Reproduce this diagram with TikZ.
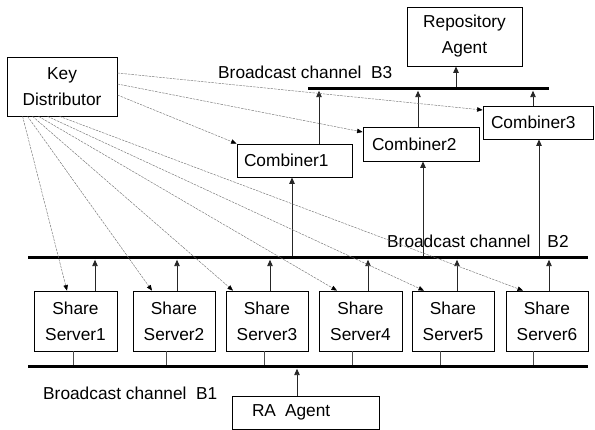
\documentclass[tikz,border=0pt]{standalone}
\usepackage{fontspec}
\setmainfont{Liberation Sans}
\usetikzlibrary{arrows.meta,calc}
\begin{document}
\begin{tikzpicture}[x=1pt,y=-1pt,
  font=\fontsize{17.3}{26}\selectfont,
  box/.style={draw, line width=0.8pt, inner sep=0pt, align=center},
  lbox/.style={draw, line width=0.8pt, inner ysep=0pt, align=left},
  bar/.style={fill=black, draw=none, inner sep=0pt, minimum height=3pt},
  arr/.style={-{Triangle[length=6.5pt,width=5.5pt]}, line width=0.9pt, draw=black!85},
  link/.style={line width=0.9pt, draw=black!70},
  dsh/.style={-{Triangle[length=5.5pt,width=4.5pt,color=black,fill=black]}, draw=black!55, line width=0.45pt, dash pattern=on 2.5pt off 1pt},
  lbl/.style={inner sep=0pt, anchor=west}
]
\useasboundingbox (0,0) rectangle (595,430);

% boxes
\node[box, minimum width=110pt, minimum height=59pt] (kd) at (62,86.5) {Key\\Distributor};
\node[box, minimum width=115pt, minimum height=59pt] (rep) at (464.5,36.5) {Repository\\Agent};
\node[lbox, minimum width=115pt, minimum height=33pt, inner xsep=7pt, text width=101pt] (c1) at (294.5,160.5) {Combiner1};
\node[lbox, minimum width=116pt, minimum height=34pt, inner xsep=9pt, text width=98pt] (c2) at (421,144) {Combiner2};
\node[lbox, minimum width=110pt, minimum height=33pt, inner xsep=8pt, text width=94pt] (c3) at (538,122.5) {Combiner3};
\node[box, minimum width=83pt, minimum height=60pt] (s1) at (75.5,321) {Share\\Server1};
\node[box, minimum width=82pt, minimum height=60pt] (s2) at (174,321) {Share\\Server2};
\node[box, minimum width=82pt, minimum height=60pt] (s3) at (267,321) {Share\\Server3};
\node[box, minimum width=83pt, minimum height=60pt] (s4) at (360.5,321) {Share\\Server4};
\node[box, minimum width=82pt, minimum height=60pt] (s5) at (453,321) {Share\\Server5};
\node[box, minimum width=82pt, minimum height=60pt] (s6) at (547,321) {Share\\Server6};
\node[lbox, minimum width=147pt, minimum height=33pt, inner xsep=20pt, text width=107pt] (rag) at (305.5,412.5) {RA\hspace{9pt}Agent};

% bars
\node[bar, minimum width=241pt] (b3) at (428.5,89) {};
\node[bar, minimum width=560pt] (b2) at (308,258) {};
\node[bar, minimum width=560pt] (b1) at (308,367) {};

% labels
\node[lbl] (l3) at (218,72) {Broadcast channel\ \ B3};
\node[lbl] (l2) at (387,241) {Broadcast channel\hspace{17pt}B2};
\node[lbl] (l1) at (43,393) {Broadcast channel\ \ B1};

% B3 connections
\draw[arr] (456,0 |- b3.north) -- (456,0 |- rep.south);
\draw[arr] (319,0 |- c1.north) -- (319,0 |- b3.south);
\draw[arr] (418,0 |- c2.north) -- (418,0 |- b3.south);
\draw[arr] (533,0 |- c3.north) -- (533,0 |- b3.south);

% B2 to combiners
\draw[arr] (292,0 |- b2.north) -- (292,0 |- c1.south);
\draw[arr] (423,0 |- b2.north) -- (423,0 |- c2.south);
\draw[arr] (539,0 |- b2.north) -- (539,0 |- c3.south);

% servers up to B2
\draw[arr] (95,0 |- s1.north) -- (95,0 |- b2.south);
\draw[arr] (177,0 |- s2.north) -- (177,0 |- b2.south);
\draw[arr] (270,0 |- s3.north) -- (270,0 |- b2.south);
\draw[arr] (368,0 |- s4.north) -- (368,0 |- b2.south);
\draw[arr] (457,0 |- s5.north) -- (457,0 |- b2.south);
\draw[arr] (549,0 |- s6.north) -- (549,0 |- b2.south);

% servers to B1
\draw[link] (73,0 |- s1.south) -- (73,0 |- b1.north);
\draw[link] (166,0 |- s2.south) -- (166,0 |- b1.north);
\draw[link] (264,0 |- s3.south) -- (264,0 |- b1.north);
\draw[link] (352,0 |- s4.south) -- (352,0 |- b1.north);
\draw[link] (440,0 |- s5.south) -- (440,0 |- b1.north);
\draw[link] (533,0 |- s6.south) -- (533,0 |- b1.north);

% RA agent to B1
\draw[arr] (297,0 |- rag.north) -- (297,0 |- b1.south);

% key distributor
\draw[dsh] ($(kd.east)+(0,-13.5)$) -- ($(c3.west)+(0,-12.5)$);
\draw[dsh] ($(kd.east)+(0,-2.5)$) -- ($(c2.west)+(0,-12)$);
\draw[dsh] ($(kd.east)+(0,8.5)$) -- (c1.north west);
\draw[dsh] ($(kd.south west)+(16,0)$) -- ($(s1.north)+(-8.5,0)$);
\draw[dsh] ($(kd.south west)+(21,0)$) -- ($(s2.north)+(-22,0)$);
\draw[dsh] ($(kd.south west)+(26,0)$) -- ($(s3.north)+(-34,0)$);
\draw[dsh] ($(kd.south west)+(32,0)$) -- ($(s4.north)+(-23.5,0)$);
\draw[dsh] ($(kd.south west)+(41,0)$) -- ($(s5.north)+(-29,0)$);
\draw[dsh] ($(kd.south west)+(53,0)$) -- ($(s6.north)+(-24,0)$);
\end{tikzpicture}
\end{document}
